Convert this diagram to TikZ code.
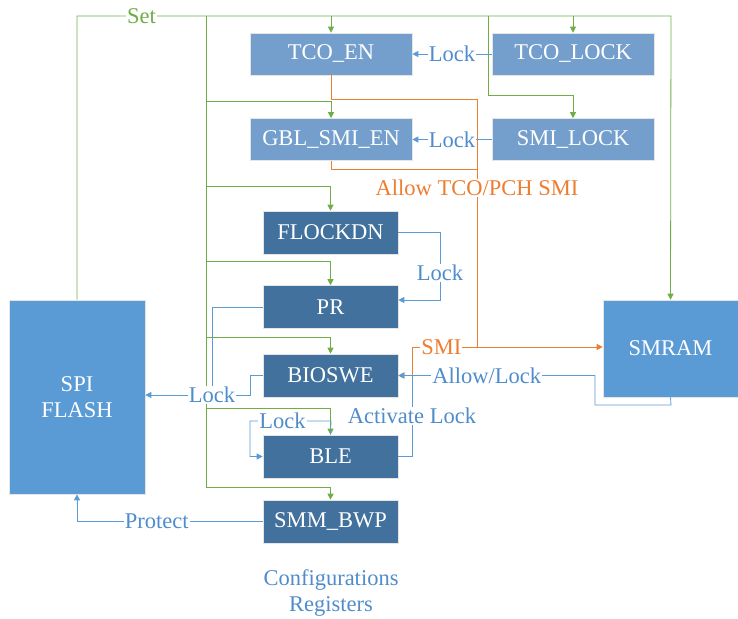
\documentclass[tikz,border=0pt]{standalone}
\usepackage{fontspec}
\setmainfont{Liberation Serif}
\usepackage{xcolor}
\usetikzlibrary{
  arrows.meta,
  calc
}
\definecolor{regLight}{HTML}{749FCC}
\definecolor{regDark}{HTML}{41719C}
\definecolor{memBlue}{HTML}{5B9BD5}
\definecolor{setGreen}{HTML}{70AD47}
\definecolor{lockBlue}{HTML}{5B9BD5}
\definecolor{lockText}{HTML}{4F8CCB}
\definecolor{smiOrange}{HTML}{ED7D31}
\tikzset{
  every reg/.style={draw=white!80!gray,line width=0.6pt,text=white,inner sep=0pt},
  light reg/.style={every reg,fill=regLight,minimum width=162pt,minimum height=42pt},
  dark reg/.style={every reg,fill=regDark,minimum width=135pt,minimum height=43pt},
  mem/.style={every reg,fill=memBlue,align=center},
}
\begin{document}
\begin{tikzpicture}[
  x=1pt,y=-1pt,
  font=\fontsize{22.5}{26}\selectfont,
  tip/.style={-{Triangle[width=6pt,length=6pt]}},
  set line/.style={draw=setGreen,line width=0.8pt},
  lock line/.style={draw=lockBlue,line width=0.8pt},
  smi line/.style={draw=smiOrange,line width=0.8pt},
  lbl/.style={fill=white,inner sep=1pt,text=lockText},
]
\useasboundingbox (0,0) rectangle (738,618);

\node[light reg] (tcoen) at (331,54) {TCO\_EN};
\node[light reg] (tcolock) at (573,54) {TCO\_LOCK};
\node[light reg] (gblsmi) at (331,139.5) {GBL\_SMI\_EN};
\node[light reg] (smilock) at (573,139.5) {SMI\_LOCK};
\node[dark reg] (flockdn) at (330.5,232.5) {FLOCKDN};
\node[dark reg] (pr) at (330.5,307) {PR};
\node[dark reg] (bioswe) at (330.5,375.5) {BIOSWE};
\node[dark reg] (ble) at (330.5,456.5) {BLE};
\node[dark reg] (smmbwp) at (330.5,521.5) {SMM\_BWP};
\node[mem,minimum width=136pt,minimum height=194pt] (spi) at (77,397) {SPI\\FLASH};
\node[mem,minimum width=135pt,minimum height=97pt] (smram) at (670.5,348.5) {SMRAM};
\node[text=lockText,align=center] (cfg) at (331,593) {Configurations\\Registers};

% set
\draw[set line,tip] (spi.north) -- (77,16) -- node[lbl,text=setGreen]{Set} (206,16) -- (671,16) -- (smram.north);
\draw[set line] (206,16) -- (206,487);
\draw[set line,tip] (tcoen.north |- 0,16) -- (tcoen.north);
\draw[set line,tip] (tcolock.north |- 0,16) -- (tcolock.north);
\draw[set line,tip] (488,16) -- (488,95) -| (smilock.north);
\foreach \y/\n in {101/gblsmi,186/flockdn,261/pr,337/bioswe,408/ble,487/smmbwp}
  \draw[set line,tip] (206,\y) -| (\n.north);

% smi
\draw[smi line,tip] (tcoen.south) -- (331,99) -- (477,99) -- (477,347) -- (smram.west |- 0,347);
\draw[smi line] (gblsmi.south) -- (331,169) -- (477,169);
\node[lbl,text=smiOrange] (allowsmi) at (477,188) {Allow TCO/PCH SMI};
\draw[smi line,tip] (477,347) -- node[lbl,text=smiOrange,pos=0.55]{SMI} (412,347) -- (412,375.5) -- (bioswe.east);

% lock
\draw[lock line,tip] (tcolock.west) -- node[lbl]{Lock} (tcoen.east);
\draw[lock line,tip] (smilock.west) -- node[lbl]{Lock} (gblsmi.east);
\draw[lock line,tip] (flockdn.east) -- (440,232.5) -- node[lbl,pos=0.6]{Lock} (440,300) -- (pr.east |- 0,300);
\node[lbl] (lockspi) at (212,395) {Lock};
\draw[lock line] (pr.west) -| (lockspi.north);
\draw[lock line] (bioswe.west) -- (250,375.5) |- (lockspi.east);
\draw[lock line,tip] (lockspi.west) -- (spi.east |- lockspi.west);
\draw[lock line,tip] (smram.south) -- (671,405) -- (595,405) -- (595,375.5) -- node[lbl,pos=0.55]{Allow/Lock} (bioswe.east);
\draw[lock line] (ble.east) -- (412,456.5) -- node[lbl]{Activate Lock} (412,375.5);
\draw[lock line,tip] (ble.north) -- (331,421) -- node[lbl,pos=0.6]{Lock} (250,421) |- (ble.west);
\draw[lock line,tip] (smmbwp.west) -- node[lbl,pos=0.57]{Protect} (77,521.5) -- (spi.south);
\end{tikzpicture}
\end{document}
